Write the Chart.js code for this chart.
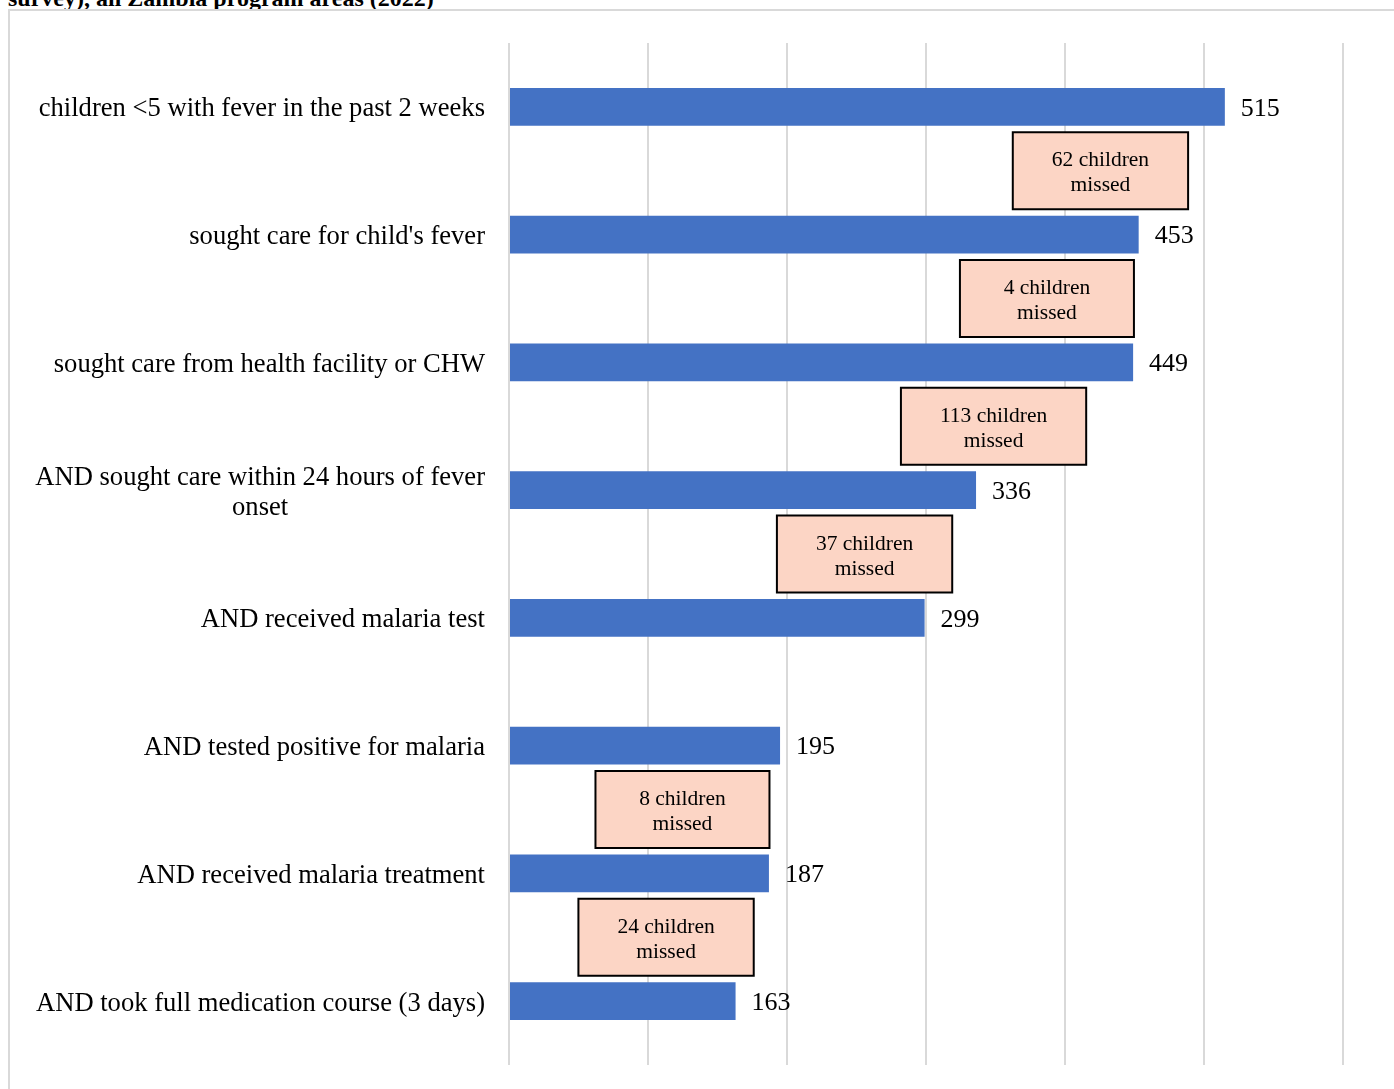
<!DOCTYPE html>
<html>
<head>
<meta charset="utf-8">
<script src="https://cdn.jsdelivr.net/npm/chart.js@4/dist/chart.umd.min.js"></script>
<style>
  html, body { margin: 0; padding: 0; background: #fff; overflow: hidden; }
  body { width: 1394px; height: 1089px; position: relative; }
  #title {
    position: absolute; left: 8px; top: -14px; margin: 0;
    font: bold 24px "Liberation Serif", "Times New Roman", serif;
    line-height: 24px; color: #000; white-space: nowrap;
  }
  #frame {
    position: absolute; left: 8px; top: 9px; width: 1500px; height: 1200px;
    border-left: 2px solid #d9d9d9; border-top: 2px solid #d9d9d9;
  }
  #chart { position: absolute; left: 10px; top: 11px; }
</style>
</head>
<body>
<div id="title">survey), all Zambia program areas (2022)</div>
<div id="frame"></div>
<canvas id="chart" width="1384" height="1078"></canvas>
<script>
// Care cascade steps for children under five with fever
const categories = [
  "children <5 with fever in the past 2 weeks",
  "sought care for child's fever",
  "sought care from health facility or CHW",
  ["AND sought care within 24 hours of fever", "onset"],
  "AND received malaria test",
  "AND tested positive for malaria",
  "AND received malaria treatment",
  "AND took full medication course (3 days)"
];
const childCounts = [515, 453, 449, 336, 299, 195, 187, 163];

// Children lost between consecutive steps (null = no callout shown)
const missedCounts = [62, 4, 113, 37, null, 8, 24];
// Horizontal anchor of each callout, in axis units
const calloutCenters = [425.5, 387, 348.6, 255.8, null, 124.8, 113];

const axisTicks = [0, 100, 200, 300, 400, 500, 600];

const SERIF = '"Liberation Serif", "Times New Roman", serif';

const cascadeLabels = {
  id: 'cascadeLabels',
  afterDatasetsDraw(chart) {
    const { ctx, chartArea, scales } = chart;
    const x = scales.x, y = scales.y;
    ctx.save();

    // category labels: block right-aligned, lines centred inside the block
    ctx.font = '26.6px ' + SERIF;
    ctx.fillStyle = '#000';
    ctx.textBaseline = 'middle';
    ctx.textAlign = 'center';
    const right = chartArea.left - 24;
    const lineH = 30;
    categories.forEach((lab, i) => {
      const lines = Array.isArray(lab) ? lab : [lab];
      const w = Math.max(...lines.map(l => ctx.measureText(l).width));
      const cx = right - w / 2;
      const cy = y.getPixelForValue(i) + 2.5;
      lines.forEach((l, k) => {
        ctx.fillText(l, cx, cy + (k - (lines.length - 1) / 2) * lineH);
      });
    });

    // value labels at bar ends
    ctx.font = '26px ' + SERIF;
    ctx.textAlign = 'left';
    const meta = chart.getDatasetMeta(0);
    meta.data.forEach((bar, i) => {
      ctx.fillText(String(childCounts[i]), bar.x + 16, bar.y + 2);
    });

    // "children missed" callouts between steps
    ctx.font = '21.5px ' + SERIF;
    missedCounts.forEach((n, i) => {
      if (n === null) return;
      const l1 = n + ' children', l2 = 'missed';
      const tw = Math.max(ctx.measureText(l1).width, ctx.measureText(l2).width);
      const bw = Math.max(tw + 78, 174), bh = 77;
      const cx = x.getPixelForValue(calloutCenters[i]);
      const cy = (y.getPixelForValue(i) + y.getPixelForValue(i + 1)) / 2;
      ctx.fillStyle = '#FCD5C5';
      ctx.fillRect(cx - bw / 2, cy - bh / 2, bw, bh);
      ctx.lineWidth = 2;
      ctx.strokeStyle = '#000';
      ctx.strokeRect(cx - bw / 2, cy - bh / 2, bw, bh);
      ctx.fillStyle = '#000';
      ctx.textAlign = 'center';
      ctx.fillText(l1, cx, cy - 10);
      ctx.fillText(l2, cx, cy + 15);
    });
    ctx.restore();
  }
};

new Chart(document.getElementById('chart'), {
  type: 'bar',
  data: {
    labels: categories,
    datasets: [{
      data: childCounts,
      backgroundColor: '#4472C4',
      borderWidth: 0,
      categoryPercentage: 1,
      barPercentage: 0.297
    }]
  },
  options: {
    indexAxis: 'y',
    responsive: false,
    devicePixelRatio: 1,
    animation: false,
    layout: { padding: { left: 0, right: 51, top: 32, bottom: 24 } },
    plugins: { legend: { display: false }, tooltip: { enabled: false } },
    scales: {
      x: {
        min: axisTicks[0],
        max: axisTicks[axisTicks.length - 1],
        afterBuildTicks(axis) { axis.ticks = axisTicks.map(v => ({ value: v })); },
        ticks: { display: false },
        border: { display: false },
        grid: { color: '#d9d9d9', lineWidth: 2, drawTicks: false },
        afterFit(axis) { axis.height = 0; }
      },
      y: {
        ticks: { display: false },
        grid: { display: false },
        border: { display: false },
        afterFit(axis) { axis.width = 499; }
      }
    }
  },
  plugins: [cascadeLabels]
});
</script>
</body>
</html>
